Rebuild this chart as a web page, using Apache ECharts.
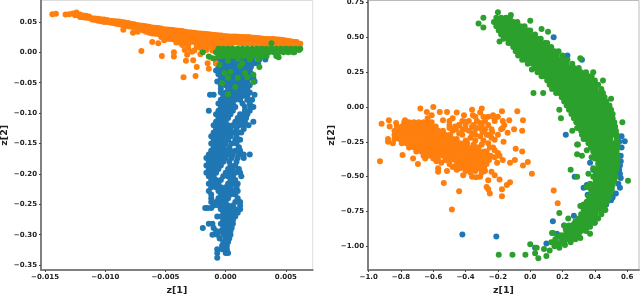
<!DOCTYPE html>
<html><head><meta charset="utf-8">
<style>html,body{margin:0;padding:0;background:#fff}#c{width:640px;height:295px;filter:blur(0.5px)}</style>
<script src="https://cdn.jsdelivr.net/npm/echarts@6/dist/echarts.min.js"></script>
</head><body><div id="c"></div>
<script>
const leftXTicks=[-0.015,-0.010,-0.005,0,0.005];
const leftYTicks=[-0.35,-0.30,-0.25,-0.20,-0.15,-0.10,-0.05,0,0.05];
const rightXTicks=[-1,-0.8,-0.6,-0.4,-0.2,0,0.2,0.4,0.6];
const rightYTicks=[-1,-0.75,-0.5,-0.25,0,0.25,0.5,0.75];

// Left panel. Columns: [x, y, y, ...]; rows: [y, x, x, ...]
const leftOrangeCols=[[-.0144,.0625],[-.0141,.0635],[-.0133,.062],[-.0130,.0625],[-.0127,.064],[-.0124,.0655],[-.0125,.061],[-.01185,.0575,.0605],[-.0121,.058,.062],[-.0116,.057,.06],[-.01135,.0565,.059],[-.0111,.056,.054],[-.01085,.0555,.053],[-.0106,.055,.052],[-.01035,.0545,.051],[-.0101,.054,.05],[-.00985,.053,.05],[-.0096,.052,.049],[-.00935,.0515,.048],[-.0091,.051,.047],[-.00885,.0505,.046],[-.0086,.05,.045],[-.00835,.049,.044],[-.0081,.048,.043],[-.00785,.047,.042],[-.0076,.046,.041],[-.00735,.045,.04],[-.0071,.044,.039],[-.00685,.0435,.0385,.036],[-.0066,.043,.038,.034],[-.00635,.042,.037,.032],[-.0061,.041,.036,.031,.017],[-.00585,.0405,.0355,.0305],[-.0056,.04,.035,.03,.015],[-.00535,.039,.034,.029,.025],[-.0051,.038,.033,.028,.023,.02],[-.00485,.0375,.0325,.0275,.0225],[-.0046,.037,.032,.027,.022],[-.00435,.0365,.0315,.0265,.0215],[-.0041,.036,.031,.026,.021,.016],[-.00385,.0355,.0305,.0255,.0205,.016],[-.0036,.035,.03,.025,.02,.012],[-.00335,.034,.029,.024,.019,.014],[-.0031,.033,.028,.023,.018,.013,.006],[-.00285,.0325,.0275,.0225,.0175],[-.0026,.032,.027,.022,.017,.003],[-.00235,.0315,.0265,.0215,.0165,.012],[-.0021,.031,.026,.021,.016,.012,.007],[-.00185,.0305,.0255,.0205,.0155,.0105],[-.0016,.03,.025,.02,.015,.01,.004],[-.00135,.0295,.0245,.0195,.0145,.0095],[-.0011,.029,.024,.019,.014,.009,.003],[-.00085,.0285,.0235,.0185,.0135,.0085],[-.0006,.028,.023,.018,.013,.008],[-.00035,.0275,.0225,.0175,.0125],[-.0001,.027,.022,.017,.012],[.00015,.0265,.0215,.0165,.0115],[.0004,.026,.021,.016,.011],[.00065,.026,.021,.016],[.0009,.026,.021,.016],[.00115,.0255,.0205,.0155],[.0014,.025,.02,.015],[.00165,.025,.02,.015],[.0019,.025,.02,.015],[.00215,.0245,.0195,.0145],[.0024,.024,.019,.014],[.00265,.0235,.0185,.0135],[.0029,.023,.018,.013],[.00315,.0225,.0175,.0125],[.0034,.022,.017,.012],[.00365,.022,.017,.012],[.0039,.022,.017,.012],[.00415,.0215,.0165,.0115],[.0044,.021,.016,.011],[.00465,.0205,.0155,.011],[.0049,.02,.015,.011],[.00515,.019,.0145,.0105],[.0054,.018,.014,.01],[.00565,.0175,.013],[.0059,.017,.012],[.0062,.014]];
const leftOrangeExtra=[[-.007,.002],[-.0053,-.006],[-.0043,0],[-.0043,-.007],[-.0035,-.041],[-.0025,-.039],[-.0024,-.024],[-.0033,-.014],[-.0027,-.013],[-.0014,-.027],[-.0015,-.018],[-.0008,-.018],[-.0034,.004],[-.0028,.001],[-.0032,-.004],[-.0024,.009],[-.0085,.037],[-.0077,.032],[-.0073,.034],[-.0021,-.003],[-.0012,-.009],[-.0006,-.006]];
const leftGreenRows=[[.006,-.0006,-.0002,.0002,.0006,.001,.0014,.0018,.0022,.0026,.003,.0034,.0038,.0042,.0046,.005,.0054,.0058,.0062],[0,-.0008,-.0004,0,.0004,.0008,.0012,.0016,.002,.0024,.0028,.0032,.0036,.004,.0044,.0048,.0052,.0056],[-.006,-.0006,-.0002,.0002,.0006,.001,.0014,.0018,.0022,.0026,.003,.0034,.0042]];
const leftGreenExtra=[[-.0019,0],[-.0014,-.007],[-.001,-.01],[-.0005,-.021],[-.0001,-.034],[.0004,-.032],[.0002,-.042],[-.0003,-.051],[.0008,-.057],[.0002,-.069],[.001,-.042],[.0016,-.034],[.0018,-.041],[.0023,-.037],[.0023,-.049],[.0014,-.018],[.0012,-.022],[.002,-.012],[.0028,-.024],[.0038,.015],[.0044,-.008],[.0057,0],[.0002,-.014],[.001,-.011],[.0027,-.012],[.0061,.004]];
const leftBlueRows=[[-.012,-.0006,-.0002,.0002,.0006,.001,.0014,.0018,.0022,.0028,.0033],[-.018,-.0008,-.0004,0,.0004,.0008,.0012,.0016,.002,.0024,.0027],[-.024,-.0006,-.0002,.0002,.0006,.001,.0014,.0018,.0021],[-.03,-.0008,-.0004,0,.0004,.0008,.0012,.0016,.002],[-.036,-.0006,-.0002,.0002,.0006,.001,.0014,.0018,.0022],[-.042,-.0004,0,.0004,.0008,.0012,.0016,.002,.0023],[-.048,-.0007,-.0002,.0002,.0006,.001,.0014,.0018,.0024],[-.054,-.0004,0,.0004,.0008,.0012,.0016,.002],[-.06,-.0004,.0002,.0006,.001,.0014,.0018],[-.066,-.0004,0,.0004,.0008,.0012,.0016,.002],[-.07,-.0013,-.001,.0024],[-.072,-.0002,.0002,.0006,.001,.0014,.0018],[-.078,-.0004,0,.0004,.0008,.0012,.0018,.0022],[-.084,-.0006,-.0002,.0002,.0006,.0014,.002],[-.09,-.0004,0,.0004,.0008,.0016,.0021,.0023],[-.096,-.0014,-.0006,-.0002,.0002,.0006,.0016,.002],[-.102,-.0008,-.0004,0,.0004,.0012,.0016,.0018],[-.108,-.0006,-.0002,.0002,.001,.0014,.0017],[-.114,-.0008,-.0004,0,.0008,.0012,.0016,.0023],[-.12,-.001,-.0006,-.0002,.0002,.0006,.0011,.0015,.0019],[-.126,-.0008,-.0004,0,.0004,.0009,.0015],[-.132,-.001,-.0006,-.0002,.0002,.0006,.001,.0013],[-.138,-.0012,-.0008,-.0004,0,.0004,.0009],[-.144,-.001,-.0006,-.0002,.0002,.0008,.0012],[-.15,-.0012,-.0008,-.0004,0,.0005,.0009],[-.156,-.001,-.0006,-.0002,.0003,.0011],[-.162,-.0012,-.0008,-.0004,0,.0004,.0008,.0012],[-.168,-.0014,-.001,-.0006,-.0002,.0002,.0006,.0011,.0015,.002],[-.174,-.0016,-.0012,-.0008,-.0004,0,.0005,.001,.0015],[-.18,-.0014,-.001,-.0006,-.0002,.0003,.0009],[-.186,-.0016,-.0012,-.0008,-.0004,.0004,.0008],[-.192,-.0014,-.001,-.0006,.0002,.0006,.0011],[-.198,-.0016,-.0012,-.0008,0,.0004,.0008,.0012],[-.204,-.0014,-.001,-.0002,.0002,.0006,.0013],[-.21,-.0012,-.0008,-.0004,.0004,.0008],[-.216,-.0014,-.001,-.0006,.0002,.0006,.001],[-.222,-.0012,-.0008,-.0004,0,.0004,.0009],[-.228,-.0014,-.0006,-.0002,.0002,.0006,.001],[-.234,-.0012,-.0004,0,.0004,.0008],[-.24,-.0012,-.0006,-.0002,.0002,.001],[-.246,-.0012,-.0008,-.0004,0,.0008,.0012],[-.252,-.001,-.0006,-.0002,.0002,.0006,.0012],[-.256,-.0017,-.0015,-.0012],[-.258,-.0004,0,.0004,.0008,.0012],[-.264,-.0002,.0002,.0006,.001],[-.27,-.0007,-.0004,0,.0004,.0008],[-.276,-.0002,.0002,.0006],[-.282,-.0014,-.0011,-.0004,0,.0004,.0006],[-.289,-.0019,-.001,-.0002,.0002,.0005],[-.294,-.0008,-.0004,0,.0004],[-.3,-.0011,-.0007,-.0002,.0002,.0004],[-.306,-.0005,0,.0003],[-.312,-.0002,.0002],[-.318,-.0003,.0001],[-.324,-.0007,-.0003,.0001],[-.33,-.0007,0,.0002],[-.338,-.0007]];

// Right panel
const rightOrangeRows=[[-.11,-.78,-.75,-.72,-.69,-.66,-.63,-.61],[-.14,-.825,-.795,-.765,-.735,-.705,-.675,-.645,-.615,-.585],[-.17,-.84,-.81,-.78,-.75,-.72,-.69,-.66,-.63,-.6,-.57,-.54],[-.2,-.84,-.825,-.795,-.765,-.735,-.705,-.675,-.645,-.615,-.585,-.555,-.525,-.495],[-.23,-.84,-.81,-.78,-.75,-.72,-.69,-.66,-.63,-.6,-.57,-.54,-.51,-.48,-.455],[-.26,-.795,-.765,-.735,-.705,-.675,-.645,-.615,-.585,-.555,-.525,-.495,-.465,-.435,-.405,-.39],[-.29,-.75,-.72,-.69,-.66,-.63,-.6,-.57,-.54,-.51,-.48,-.45,-.42,-.39,-.36,-.33,-.32],[-.32,-.705,-.675,-.645,-.615,-.585,-.555,-.525,-.495,-.465,-.435,-.405,-.375,-.345,-.315,-.285,-.27],[-.35,-.66,-.63,-.6,-.57,-.54,-.51,-.48,-.45,-.42,-.39,-.36,-.33,-.3,-.27,-.245],[-.38,-.525,-.495,-.465,-.435,-.405,-.375,-.345,-.315,-.285,-.255],[-.41,-.45,-.42,-.39,-.36,-.33,-.3,-.27],[-.44,-.435,-.405,-.375,-.345,-.315,-.285],[-.07,-.34,-.29,-.26,-.23,-.2],[-.1,-.5,-.42,-.38,-.33,-.28,-.22,-.17],[-.13,-.5,-.44,-.4,-.35,-.3,-.26,-.16],[-.16,-.46,-.4,-.34,-.3,-.24,-.18],[-.2,-.42,-.34,-.27,-.2]];
const rightOrangeExtra=[[-.68,-.01],[-.6,0],[-.64,-.035],[-.56,-.035],[-.515,-.035],[-.455,-.04],[-.41,-.06],[-.36,-.02],[-.3,-.01],[-.31,-.04],[-.175,-.03],[-.08,-.03],[-.045,-.095],[-.13,-.095],[-.23,-.06],[-.355,-.06],[-.405,-.105],[-.48,-.08],[-.54,-.095],[-.61,-.06],[-.635,-.08],[-.875,-.095],[-.92,-.12],[-.87,-.14],[-.83,-.115],[-.775,-.095],[-.88,-.23],[-.88,-.25],[-.85,-.26],[-.93,-.39],[-.79,-.345],[-.695,-.41],[-.725,-.37],[-.65,-.37],[-.58,-.39],[-.57,-.44],[-.57,-.465],[-.515,-.46],[-.535,-.545],[-.44,-.605],[-.485,-.735],[-.455,-.45],[-.415,-.49],[-.36,-.5],[-.335,-.505],[-.31,-.5],[-.26,-.525],[-.24,-.465],[-.22,-.49],[-.19,-.52],[-.27,-.575],[-.26,-.59],[-.25,-.62],[-.175,-.59],[-.145,-.56],[-.125,-.54],[-.175,-.64],[-.045,-.42],[-.095,-.38],[-.125,-.4],[-.17,-.38],[-.205,-.4],[-.05,-.32],[-.09,-.3],[-.165,-.25],[-.22,-.235],[-.23,-.29],[-.05,-.17],[-.1,-.16],[-.14,-.185],[-.17,-.15],[-.235,-.18],[-.295,-.18],[-.36,-.19],[-.31,-.115],[-.465,-.14],[.01,-.48],[-.015,-.395],[.145,-.6],[.17,-.69],[-.6,-.37],[-.57,-.38],[-.55,-.4],[-.5,-.41],[-.48,-.43],[-.46,-.42],[-.4,-.46],[-.37,-.47],[-.34,-.46],[-.3,-.47],[-.28,-.46],[-.44,-.13],[-.42,-.16],[-.38,-.17],[-.36,-.14],[-.33,-.15],[-.28,-.16],[-.26,-.2],[-.24,-.22],[-.31,-.21],[-.37,-.22],[-.44,-.19],[-.48,-.17],[-.5,-.15],[-.4,-.24],[-.34,-.24],[-.29,-.24],[-.26,-.26],[-.35,-.27],[-.3,-.27],[-.25,-.29],[-.22,-.31],[-.2,-.33],[-.22,-.36],[-.19,-.35]];
const rightGreenRows=[[.64,-.21,-.18,-.15,-.125],[.61,-.225,-.195,-.165,-.135,-.105,-.08],[.58,-.21,-.18,-.15,-.12,-.09,-.06,-.035],[.55,-.195,-.165,-.135,-.105,-.075,-.045,-.015,0],[.52,-.18,-.15,-.12,-.09,-.06,-.03,0,.03],[.49,-.165,-.135,-.105,-.075,-.045,-.015,.015,.045,.065],[.46,-.135,-.12,-.09,-.06,-.03,0,.03,.06,.09,.105],[.43,-.105,-.075,-.045,-.015,.015,.045,.075,.105,.13],[.4,-.09,-.06,-.03,0,.03,.06,.09,.12,.15,.175],[.37,-.075,-.045,-.015,.015,.045,.075,.105,.135,.165,.2],[.34,-.05,-.03,0,.03,.06,.09,.12,.15,.18,.21,.23],[.31,-.015,.015,.045,.075,.105,.135,.165,.195,.225,.26],[.28,.03,.06,.09,.12,.15,.18,.21,.24,.27,.3],[.25,.045,.075,.105,.135,.165,.195,.225,.255,.285,.315,.345],[.22,.07,.09,.12,.15,.18,.21,.24,.27,.3,.33,.36,.38],[.19,.105,.135,.165,.195,.225,.255,.285,.315,.345,.375,.4],[.16,.12,.15,.18,.21,.24,.27,.3,.33,.36,.39,.42],[.13,.135,.165,.195,.225,.255,.285,.315,.345,.375,.405,.44],[.1,.16,.18,.21,.24,.27,.3,.33,.36,.39,.42,.45],[.07,.195,.225,.255,.285,.315,.345,.375,.405,.435,.46],[.04,.21,.24,.27,.3,.33,.36,.39,.42,.45,.47],[.01,.225,.255,.285,.315,.345,.375,.405,.435,.465,.49],[-.02,.24,.27,.3,.33,.36,.39,.42,.45,.48,.5],[-.05,.255,.285,.315,.345,.375,.405,.435,.465,.495,.51],[-.08,.27,.3,.33,.36,.39,.42,.45,.48,.51],[-.11,.285,.315,.345,.375,.405,.435,.465,.495,.52],[-.14,.3,.33,.36,.39,.42,.45,.48,.51,.525],[-.17,.315,.345,.375,.405,.435,.465,.495,.53],[-.2,.33,.36,.39,.42,.45,.48,.51,.535],[-.23,.345,.375,.405,.435,.465,.495,.535],[-.26,.36,.39,.42,.45,.48,.51,.54],[-.29,.375,.405,.435,.465,.495,.525,.54],[-.32,.39,.42,.45,.48,.51,.535],[-.35,.405,.435,.465,.495,.525,.54],[-.38,.42,.45,.48,.51,.54],[-.41,.42,.435,.465,.495,.525,.54],[-.44,.42,.45,.48,.51,.535],[-.47,.405,.435,.465,.495,.525],[-.5,.42,.45,.48,.51,.53],[-.53,.405,.435,.465,.495,.52],[-.56,.39,.42,.45,.48,.51],[-.59,.375,.405,.435,.465,.495,.505],[-.62,.39,.42,.45,.48,.495],[-.65,.375,.405,.435,.465,.49],[-.68,.36,.39,.42,.45,.475],[-.71,.345,.375,.405,.435,.46],[-.74,.36,.39,.42,.45,.465],[-.77,.315,.345,.375,.405,.44],[-.8,.3,.33,.36,.39,.42],[-.83,.285,.315,.345,.375,.395],[-.86,.24,.27,.3,.33,.36,.37],[-.89,.225,.255,.285,.315,.345],[-.92,.21,.24,.27,.3],[-.95,.195,.225,.255],[-.98,.18,.21]];
const rightGreenExtra=[[-.32,.6],[-.29,.64],[-.29,.57],[-.2,.68],[-.12,.66],[0,.62],[-.19,.47],[.07,.56],[.11,.54],[.02,.1],[.08,.1],[.18,-.02],[.19,-.08],[.01,.27],[.31,.35],[.45,.19],[.5,.06],[.57,-.11],[.29,-.27],[.26,-.17],[.39,.25],[.605,-.53],[.25,-.45],[.29,-.5],[.18,-.76],[.135,-.905],[-.195,-1.06],[-.11,-1.06],[-.03,-1.06],[.05,-1.085],[0,-.985],[.04,-1.01],[.03,-1.05],[.085,-1.02],[.1,-1.07],[.12,-1.03],[.15,-1],[.18,-1.01],[.215,-.99],[.14,-.905],[.235,-.8],[.21,-.85],[.37,-.91],[.31,-.71],[.33,-.74],[.29,-.34],[.32,-.35],[.35,-.31],[.295,-.27],[.35,-.575],[.37,-.55],[.36,-.48],[.13,-.97],[.155,-.95],[.25,-.87],[.22,-.88],[.24,-.85],[.28,-.82],[.27,-.84],[.33,-.7],[.35,-.68],[.36,-.64],[.38,-.6],[.39,-.5],[.39,-.44],[.4,-.37],[.38,-.36],[.33,-.23],[.32,-.2],[.29,-.15],[.17,-.93],[.19,-.92],[.16,-.97],[.22,-.95],[.25,-.97],[.28,-.95],[.31,-.94]];
const rightBlue=[[.145,.5],[.23,.37],[.32,.34],[.265,.28],[.22,-.2],[.565,-.21],[.585,-.245],[.565,-.29],[.245,0],[-.42,-.915],[-.21,-.93],[.14,-.82],[.165,-.91],[.21,-.85],[.03,-1.01],[.1,-.98],[.27,-.78],[.275,-.5],[.33,-.58],[.35,-.56],[.355,-.63],[.51,-.65],[.53,-.62],[.55,-.45],[.555,-.48],[.56,-.51],[.555,-.42],[.555,-.58],[.39,-.45],[.35,-.72],[.4,-.83],[.33,-.77],[.56,-.35],[.56,-.39],[.545,-.55],[.5,-.67],[.47,-.7],[.31,-.87],[.2,-.97],[.37,-.4],[.4,-.33],[.55,-.25]];

const byRow=rows=>rows.flatMap(([y,...xs])=>xs.map(x=>[x,y]));
const byCol=cols=>cols.flatMap(([x,...ys])=>ys.map(y=>[x,y]));
const BLUE='#1f77b4',ORANGE='#ff7f0e',GREEN='#2ca02c',FONT='"DejaVu Sans"';

function axis(name,ticks,dec,min,max,gap,idx){
  return {type:'value',gridIndex:idx,min,max,name,nameLocation:'middle',nameGap:gap,
    nameTextStyle:{fontFamily:FONT,fontWeight:'bold',fontSize:9.5,color:'#222'},
    splitLine:{show:false},
    axisLine:{show:true,onZero:false,lineStyle:{color:'#808080',width:2}},
    axisTick:{show:true,length:2,customValues:ticks,lineStyle:{color:'#444',width:1}},
    axisLabel:{customValues:ticks,margin:4,hideOverlap:false,showMinLabel:true,showMaxLabel:true,fontFamily:FONT,fontWeight:'bold',fontSize:7,color:'#222',
      formatter:v=>Number(v).toFixed(dec).replace('-','\u2212')}};
}
function dots(name,data,color,idx){
  return {type:'scatter',name,xAxisIndex:idx,yAxisIndex:idx,data,symbolSize:6,itemStyle:{color,opacity:1},animation:false,silent:true};
}
const chart=echarts.init(document.getElementById('c'),null,{renderer:'canvas'});
chart.setOption({
  animation:false,backgroundColor:'#fff',
  grid:[
    {left:41,top:0.5,width:271.7,height:269.5,outerBoundsMode:'none',show:true,borderColor:'#dddddd',borderWidth:1},
    {left:368,top:0.5,width:271,height:269.5,outerBoundsMode:'none',show:true,borderColor:'#bbbbbb',borderWidth:1}
  ],
  xAxis:[axis('z[1]',leftXTicks,3,-0.01534,0.00723,15,0),axis('z[1]',rightXTicks,1,-1.004,0.673,15,1)],
  yAxis:[axis('z[2]',leftYTicks,2,-0.358,0.0852,31,0),axis('z[2]',rightYTicks,2,-1.17,0.7645,31,1)],
  series:[
    dots('blue',byRow(leftBlueRows),BLUE,0),
    dots('orange',byCol(leftOrangeCols).concat(leftOrangeExtra),ORANGE,0),
    dots('green',byRow(leftGreenRows).concat(leftGreenExtra),GREEN,0),
    dots('blue',rightBlue,BLUE,1),
    dots('orange',byRow(rightOrangeRows).concat(rightOrangeExtra),ORANGE,1),
    dots('green',byRow(rightGreenRows).concat(rightGreenExtra),GREEN,1)
  ]
});
</script></body></html>
